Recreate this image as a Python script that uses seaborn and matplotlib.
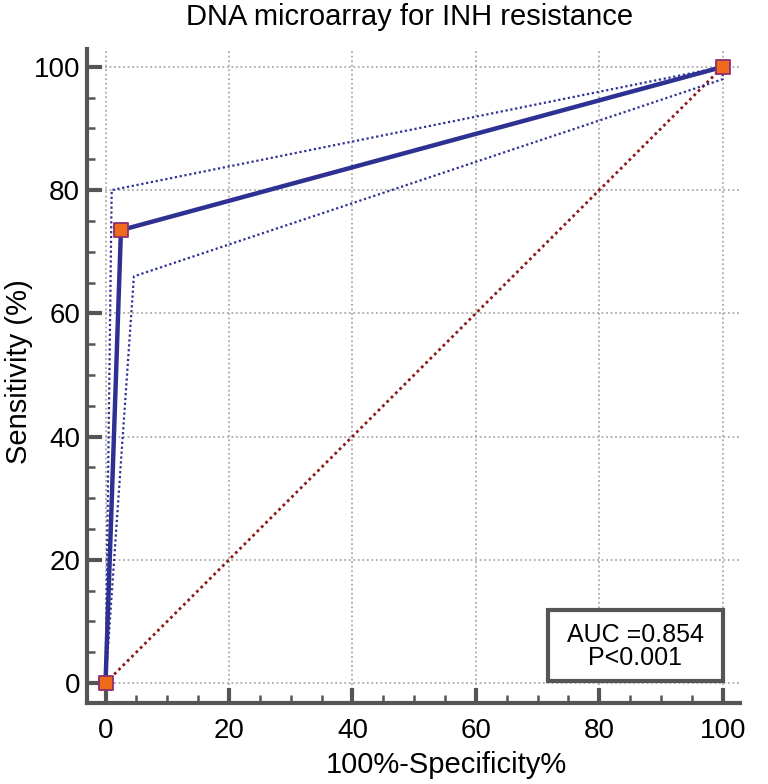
import numpy as np
import pandas as pd
import seaborn as sns
import matplotlib.pyplot as plt
from matplotlib.patches import Rectangle
from matplotlib.ticker import MultipleLocator

# ROC points (100-specificity, sensitivity)
roc_fpr = [0, 2.5, 100]
roc_tpr = [0, 73.5, 100]

# confidence bounds
upper_fpr = [0, 1.0, 100]
upper_tpr = [0, 80, 100]
lower_fpr = [0, 4.6, 100, 100]
lower_tpr = [0, 66, 98, 100]

diag = [0, 100]

auc_text = "AUC =0.854\nP<0.001"

sns.set_style("ticks")
plt.rcParams['font.family'] = ['Liberation Sans', 'DejaVu Sans']
plt.rcParams['text.color'] = 'black'
plt.rcParams['axes.labelcolor'] = 'black'
plt.rcParams['xtick.labelcolor'] = 'black'
plt.rcParams['ytick.labelcolor'] = 'black'

navy = '#2e3192'
spine_col = '#555555'

fig = plt.figure(figsize=(7.68, 7.84), dpi=100)
ax = fig.add_axes([87 / 768, 1 - 703 / 784, 653 / 768, 654 / 784])

roc_df = pd.DataFrame({'fpr': roc_fpr, 'tpr': roc_tpr})
up_df = pd.DataFrame({'fpr': upper_fpr, 'tpr': upper_tpr})
lo_df = pd.DataFrame({'fpr': lower_fpr, 'tpr': lower_tpr})

ax.plot(diag, diag, color='#8b1a1a', lw=2, ls=(0, (1, 1.2)), zorder=2)
sns.lineplot(data=up_df, x='fpr', y='tpr', sort=False, estimator=None, ax=ax,
             color=navy, lw=1.6, ls=(0, (1, 1.2)), zorder=3)
sns.lineplot(data=lo_df, x='fpr', y='tpr', sort=False, estimator=None, ax=ax,
             color=navy, lw=1.6, ls=(0, (1, 1.2)), zorder=3)
sns.lineplot(data=roc_df, x='fpr', y='tpr', sort=False, estimator=None, ax=ax,
             color=navy, lw=3.2, zorder=4)
sns.scatterplot(data=roc_df, x='fpr', y='tpr', ax=ax, marker='s', s=110,
                color='#f06a1d', edgecolor='#8e2f6f', linewidth=1.3,
                zorder=5, clip_on=False)

ax.set_xlim(-3.0, 102.8)
ax.set_ylim(-3.25, 102.9)

ax.xaxis.set_major_locator(MultipleLocator(20))
ax.yaxis.set_major_locator(MultipleLocator(20))
ax.xaxis.set_minor_locator(MultipleLocator(5))
ax.yaxis.set_minor_locator(MultipleLocator(5))
ax.grid(True, which='major', color='#aaaaaa', ls=(0, (1, 1.5)), lw=1.3)

for s in ['top', 'right']:
    ax.spines[s].set_visible(False)
for s in ['left', 'bottom']:
    ax.spines[s].set_linewidth(3)
    ax.spines[s].set_color(spine_col)

ax.tick_params(which='major', direction='in', length=11, width=3,
               color=spine_col, labelsize=20, labelcolor='black')
ax.tick_params(which='minor', direction='in', length=6, width=1.8,
               color=spine_col)
ax.tick_params(axis='y', which='major', pad=5)
ax.tick_params(axis='x', which='major', pad=11)

ax.set_xlabel('100%-Specificity%', fontsize=21, color='black')
ax.set_ylabel('Sensitivity (%)', fontsize=21, color='black')
ax.xaxis.set_label_coords(0.55, -0.074)
ax.yaxis.set_label_coords(-0.083, 0.506)

fig.text(410 / 768, 1 - 25 / 784, 'DNA microarray for INH resistance',
         ha='center', va='baseline', fontsize=21, color='black')

# AUC box
ax.add_patch(Rectangle((71.7, 0.3), 28.3, 11.55, fill=True, facecolor='white',
                       edgecolor=spine_col, lw=3, zorder=6))
ax.text(85.8, 5.9, auc_text, ha='center', va='center', fontsize=18,
        linespacing=0.92, zorder=7, color='black')

fig.savefig('out.png', dpi=100)
